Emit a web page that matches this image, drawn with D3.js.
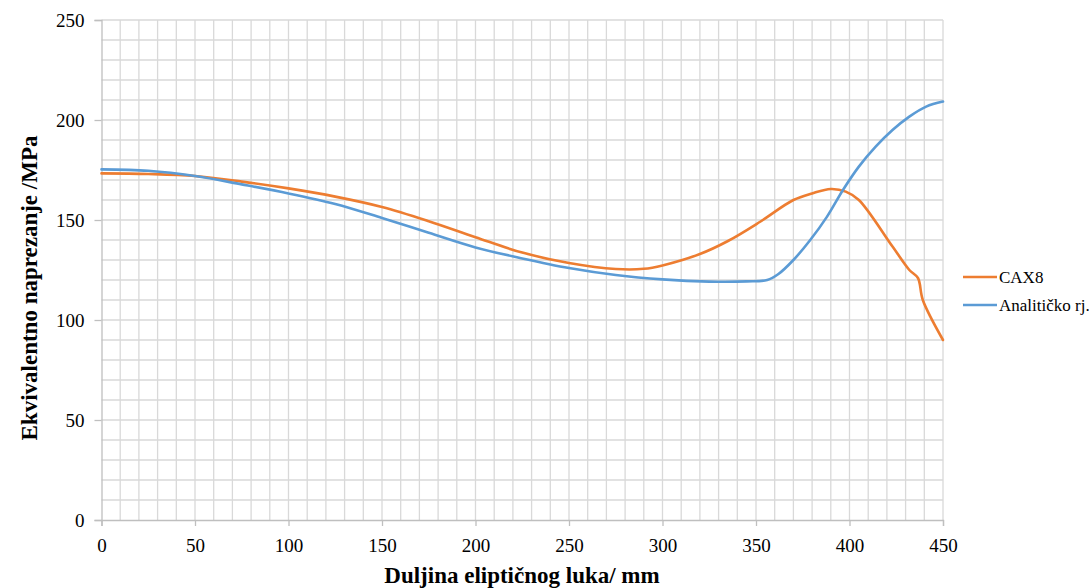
<!DOCTYPE html>
<html><head><meta charset="utf-8">
<script src="https://cdn.jsdelivr.net/npm/d3@7"></script>
<style>body{margin:0;background:#fff}svg{display:block}</style>
</head><body>
<script>
const caxX = [0,25,50,75,100,125,150,175,200,225,250,275,290,300,320,335,352,370,380,390,398,405,423,432,436.6,439.2,450];
const caxY = [173.3,173,172,169.2,165.8,161.7,156.5,149.4,141.4,133.7,128.5,125.5,125.6,127.3,133,139.5,149,160,163.3,165.5,164.2,160,136.7,125,121,110,90];
const anaX = [0,25,50,75,100,125,150,175,200,225,250,275,300,325,345,356,362,370,379,388,396.5,405,414,423,432,441,450];
const anaY = [175.3,174.6,172,167.8,163.3,158,151,143.6,136.3,130.8,126,122.5,120.3,119.2,119.3,120,123,130,140,151.7,165,176.7,186.7,195,201.7,206.7,209.2];
const xTicks = [0,50,100,150,200,250,300,350,400,450];
const yTicks = [0,50,100,150,200,250];
const seriesNames = ["CAX8","Analitičko rj."];
const colors = ["#ED7D31","#5B9BD5"];

const W=1089,H=588;
const svg=d3.select("body").append("svg").attr("width",W).attr("height",H);
const x=d3.scaleLinear().domain([0,450]).range([101.5,943]);
const y=d3.scaleLinear().domain([0,250]).range([520,20]);
const font="'Liberation Serif','Times New Roman',serif";

// grid
const g=svg.append("g");
g.selectAll("line.vg").data(d3.range(10,451,10)).join("line")
 .attr("x1",d=>x(d)).attr("x2",d=>x(d)).attr("y1",y(0)).attr("y2",y(250))
 .attr("stroke","#d9d9d9").attr("stroke-width",1.3);
g.selectAll("line.hg").data(d3.range(10,251,10)).join("line")
 .attr("x1",x(0)).attr("x2",x(450)).attr("y1",d=>y(d)).attr("y2",d=>y(d))
 .attr("stroke","#d9d9d9").attr("stroke-width",1.3);

// axes
const xa=svg.append("g").attr("transform",`translate(0,${y(0)})`)
 .call(d3.axisBottom(x).tickValues(xTicks).tickSize(6).tickPadding(13).tickFormat(d3.format("d")));
const ya=svg.append("g").attr("transform",`translate(${x(0)},0)`)
 .call(d3.axisLeft(y).tickValues(yTicks).tickSize(7).tickPadding(10).tickFormat(d3.format("d")));
[xa,ya].forEach(a=>{
 a.attr("font-family",font).attr("font-size",19);
 a.selectAll("path.domain").attr("stroke","#bfbfbf").attr("stroke-width",1.3);
 a.selectAll(".tick line").attr("stroke","#bfbfbf").attr("stroke-width",1.3);
 a.selectAll("text").attr("fill","#000");
});

// lines
const line=d3.line().curve(d3.curveCatmullRom.alpha(0.5)).x(d=>x(d[0])).y(d=>y(d[1]));
const data=[d3.zip(caxX,caxY),d3.zip(anaX,anaY)];
svg.selectAll("path.s").data(data).join("path")
 .attr("d",line).attr("fill","none").attr("stroke",(d,i)=>colors[i])
 .attr("stroke-width",2.6).attr("stroke-linejoin","round").attr("stroke-linecap","round");

// titles
svg.append("text").attr("x",522).attr("y",583).attr("text-anchor","middle")
 .attr("font-family",font).attr("font-weight","bold").attr("font-size",23)
 .text("Duljina eliptičnog luka/ mm");
svg.append("text").attr("transform","translate(37,288) rotate(-90)").attr("text-anchor","middle")
 .attr("font-family",font).attr("font-weight","bold").attr("font-size",23)
 .text("Ekvivalentno naprezanje /MPa");

// legend
const lg=svg.append("g");
seriesNames.forEach((n,i)=>{
 const ly=277+i*28;
 lg.append("line").attr("x1",963).attr("x2",997).attr("y1",ly).attr("y2",ly)
  .attr("stroke",colors[i]).attr("stroke-width",2.6);
 lg.append("text").attr("x",999).attr("y",ly+6).attr("font-family",font).attr("font-size",17).text(n);
});
</script>
</body></html>
